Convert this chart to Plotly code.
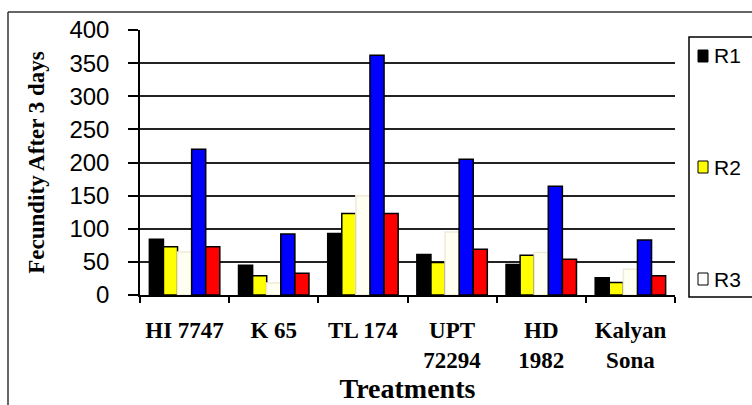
import plotly.graph_objects as go

categories = ["HI 7747", "K 65", "TL 174", "UPT<br>72294", "HD<br>1982", "Kalyan<br>Sona"]
r1 = [84, 45, 93, 61, 46, 26]
r2 = [73, 29, 123, 49, 60, 19]
r3 = [65, 18, 150, 95, 64, 39]
r4 = [220, 92, 362, 205, 164, 83]
r5 = [73, 33, 123, 69, 54, 29]
series_names = ["R1", "R2", "R3", "R4", "R5"]
series_values = [r1, r2, r3, r4, r5]
legend_names = ["R1", "R2", "R3"]
colors = ["#000000", "#FFFF00", "#FFFFF2", "#0000FF", "#FF0000"]
line_colors = ["#000000", "#000000", "#EFEBD8", "#000000", "#000000"]
y_ticks = [0, 50, 100, 150, 200, 250, 300, 350, 400]

# plot-area geometry (pixels)
L, R, T, B = 140, 675, 30, 295
W, H = 752, 405
pw, ph = R - L, B - T


def px_x(px):
    return (px - L) / pw


def px_y(py):
    return (B - py) / ph


fig = go.Figure()
for i, (name, vals) in enumerate(zip(series_names, series_values)):
    fig.add_trace(go.Bar(
        x=categories, y=vals, name=name,
        marker=dict(color=colors[i], line=dict(color=line_colors[i], width=1.5)),
        showlegend=False,
    ))

# legend drawn as box + swatches + text (entries spread over the box height as in the reference)
shapes = [
    dict(type="line", xref="paper", yref="paper", x0=px_x(8), x1=px_x(770), y0=px_y(12), y1=px_y(12),
         line=dict(color="#333333", width=1.5)),
    dict(type="line", xref="paper", yref="paper", x0=px_x(8), x1=px_x(8), y0=px_y(12), y1=px_y(420),
         line=dict(color="#333333", width=1.5)),
    dict(type="rect", xref="paper", yref="paper", x0=px_x(689), x1=px_x(790), y0=px_y(297), y1=px_y(37),
         line=dict(color="#000000", width=1.5), fillcolor="white"),
]
annotations = []
entry_y = [56, 167, 279]
for i, name in enumerate(legend_names):
    cy = entry_y[i]
    shapes.append(dict(type="rect", xref="paper", yref="paper",
                       x0=px_x(698), x1=px_x(708), y0=px_y(cy + 6), y1=px_y(cy - 6),
                       line=dict(color="#000000", width=1), fillcolor=colors[i] if i != 2 else "#FFFFFF"))
    annotations.append(dict(xref="paper", yref="paper", x=px_x(712), y=px_y(cy), text=name,
                            showarrow=False, xanchor="left", yanchor="middle",
                            font=dict(family="Liberation Sans", size=21, color="black")))

fig.update_layout(
    width=W, height=H,
    margin=dict(l=L, r=W - R, t=T, b=H - B, autoexpand=False),
    paper_bgcolor="white", plot_bgcolor="white",
    barmode="group", bargap=0.21, bargroupgap=0,
    font=dict(family="Liberation Sans", color="black"),
    showlegend=False,
    xaxis=dict(
        type="category",
        showline=True, linecolor="black", linewidth=1.5,
        ticks="outside", tickson="boundaries", ticklen=6, tickcolor="black", tickwidth=1.5,
        ticklabelstandoff=14,
        tickfont=dict(family="Liberation Serif", size=23, color="black", weight="bold"),
        tickangle=0,
        title=dict(text="<b>Treatments</b>", font=dict(family="Liberation Serif", size=28, color="black"), standoff=3),
        showgrid=False,
    ),
    yaxis=dict(
        range=[0, 400], tickvals=y_ticks,
        showline=True, linecolor="black", linewidth=1.5,
        ticks="outside", ticklen=10, tickcolor="black", tickwidth=1.5,
        ticklabelstandoff=14,
        tickfont=dict(family="Liberation Sans", size=24, color="black"),
        showgrid=True, gridcolor="#222222", gridwidth=1.5,
        zeroline=False,
        title=dict(text="<b>Fecundity After 3 days</b>", font=dict(family="Liberation Serif", size=23, color="black"), standoff=18),
    ),
    shapes=shapes,
    annotations=annotations,
)

fig.write_html(
    "out.html",
    config={"displayModeBar": False},
    post_script="document.body.style.margin='0';document.body.style.overflow='hidden';",
)
